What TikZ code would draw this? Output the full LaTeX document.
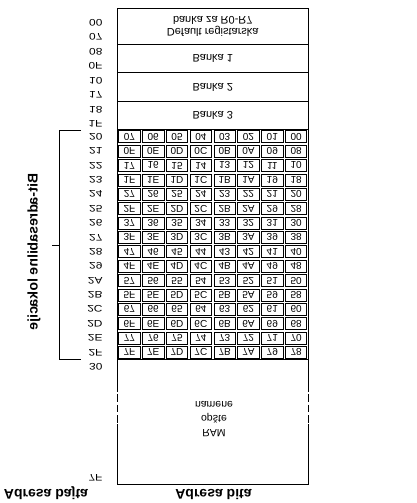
\documentclass[tikz,border=0pt]{standalone}
\usepackage{fontspec}
\setmainfont{Liberation Sans}
\begin{document}
\begin{tikzpicture}[x=1pt,y=-1pt,
  obrnut/.style={yscale=-1,inner sep=0pt},
  adresa/.style={obrnut,xscale=1.25,anchor=east,font=\fontsize{9.5}{11}\selectfont},
  bitCelija/.style={obrnut,font=\fontsize{10}{12}\selectfont},
  banka/.style={obrnut,align=center,font=\fontsize{11}{11.7}\selectfont},
  naslov/.style={obrnut,anchor=base,font=\fontsize{14}{16}\selectfont\bfseries}]
\useasboundingbox (0,0) rectangle (416,503);
\draw[line width=0.8pt] (117.5,392)--(117.5,8.5)--(308,8.5)--(308,392) (117.5,424)--(117.5,484)--(308,484)--(308,424);
\draw[line width=0.8pt,dash pattern=on 7.5pt off 3pt] (117.5,394)--(117.5,424) (308,394)--(308,424);
\foreach \y in {44,72.7,101.7,129.5,359.5} \draw[line width=0.8pt] (117.5,\y)--(308,\y);
\foreach \r in {0,...,15}{
  \pgfmathsetmacro\yg{129.5+14.375*\r}
  \pgfmathdectoBase\rh{\r}{16}
  \node[adresa] (ra-\r) at (102.7,\yg+7.19) {2\rh};
  \foreach \c in {0,...,7}{
    \pgfmathsetmacro\xl{117.5+23.8125*\c}
    \pgfmathtruncatemacro\hiD{int(\r/2)}
    \pgfmathtruncatemacro\loV{8*mod(\r,2)+7-\c}
    \pgfmathdectoBase\loD{\loV}{16}
    \draw[line width=0.6pt] (\xl+1.2,\yg+1.2) rectangle (\xl+22.6,\yg+13.2);
    \node[bitCelija] (b-\r-\c) at (\xl+11.9,\yg+7.19) {\hiD\loD};
  }
}
\foreach \a/\b [count=\i from 0] in {00/07,08/0F,10/17,18/1F}{
  \node[adresa] (bp-\i) at (102.7,22.7+28.9*\i) {\a};
  \node[adresa] (bk-\i) at (102.7,36.7+28.9*\i) {\b};
}
\node[adresa] (r30) at (102.7,367) {30};
\node[adresa] (r7F) at (102.7,478) {7F};
\node[banka] (banka0) at (212.75,26.2) {Default registarska\\banka za R0-R7};
\foreach \t/\y [count=\i] in {1/58.3,2/87.2,3/115.6} \node[banka] (banka\i) at (212.75,\y) {Banka \t};
\node[banka,font=\fontsize{10.5}{14}\selectfont] (ram) at (214,419) {RAM\\opšte\\namene};
\draw[line width=0.8pt] (81,130)--(59.5,130)--(59.5,359)--(81,359) (59.5,245.5)--(52,245.5);
\node[inner sep=0pt,font=\fontsize{14}{16}\selectfont\bfseries,cm={0,-1,-1,0,(0,0)}] (bitLok) at (34,252) {Bit-adresabilne lokacije};
\node[naslov] (adrBajta) at (46,489.5) {Adresa bajta};
\node[naslov] (adrBita) at (213.5,489.5) {Adresa bita};
\end{tikzpicture}
\end{document}
